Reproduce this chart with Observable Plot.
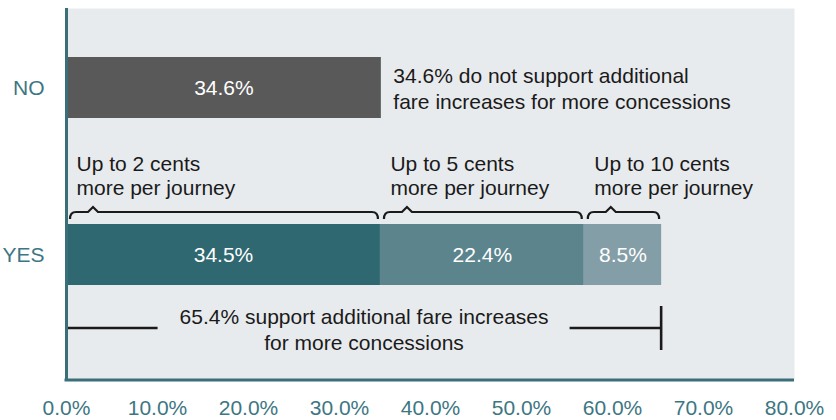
<!DOCTYPE html>
<html><head><meta charset="utf-8">
<script src="https://cdn.jsdelivr.net/npm/d3@7"></script>
<script src="https://cdn.jsdelivr.net/npm/@observablehq/plot@0.6"></script>
<style>body{margin:0;background:#fff}</style>
</head><body><div id="chart"></div>
<script>
const categories = ["NO", "YES"];
const noValues = [34.6];
const yesValues = [34.5, 22.4, 8.5];
const yesOptions = ["Up to 2 cents\nmore per journey", "Up to 5 cents\nmore per journey", "Up to 10 cents\nmore per journey"];
const noNote = "34.6% do not support additional\nfare increases for more concessions";
const yesNote = "65.4% support additional fare increases\nfor more concessions";
const xTicks = [0, 10, 20, 30, 40, 50, 60, 70, 80];
const noColor = "#595959";
const yesColors = ["#2f6870", "#5b848d", "#849ea7"];

const axisColor = "#3a6e78";
const tickColor = "#3d7683";
const inkColor = "#1a1a1a";
const FONT = 21;

let acc = 0;
const yesRows = yesValues.map((v, i) => {
  const r = {cat: "YES", x1: acc, x2: acc + v, value: v, label: yesOptions[i], fill: yesColors[i]};
  acc += v;
  return r;
});
const yesTotal = acc;
const noRows = noValues.map(v => ({cat: "NO", x1: 0, x2: v, value: v, fill: noColor}));
const bars = [...noRows, ...yesRows];
const fmt = v => v.toFixed(1) + "%";

function braces(index, scales) {
  const g = d3.create("svg:g");
  const yTop = scales.y("YES");
  const y0 = yTop - 12;
  for (const r of yesRows) {
    const a = scales.x(r.x1) + 4, b = scales.x(r.x2) - 2;
    const p = a + 23;
    const d = `M${a},${y0 + 7} Q${a},${y0} ${a + 6},${y0} L${p - 5},${y0} L${p},${y0 - 5} L${p + 5},${y0} L${b - 6},${y0} Q${b},${y0} ${b},${y0 + 7}`;
    g.append("path").attr("d", d).attr("fill", "none").attr("stroke", inkColor).attr("stroke-width", 2.2);
  }
  return g.node();
}

function totalBracket(index, scales) {
  const g = d3.create("svg:g");
  const yTop = scales.y("YES");
  const yl = yTop + 104;
  const x0 = scales.x(0), x1 = scales.x(yesTotal), cx = scales.x(yesTotal / 2);
  const gap = 206;
  const st = sel => sel.attr("stroke", inkColor).attr("stroke-width", 2.6);
  st(g.append("line").attr("x1", x0).attr("x2", cx - gap).attr("y1", yl).attr("y2", yl));
  st(g.append("line").attr("x1", cx + gap).attr("x2", x1).attr("y1", yl).attr("y2", yl));
  st(g.append("line").attr("x1", x1).attr("x2", x1).attr("y1", yl - 22).attr("y2", yl + 22));
  return g.node();
}

function bottomLine(index, scales, values, dims) {
  const y = dims.height - dims.marginBottom;
  return d3.create("svg:line")
    .attr("x1", dims.marginLeft - 1.5).attr("x2", dims.width - dims.marginRight)
    .attr("y1", y).attr("y2", y)
    .attr("stroke", axisColor).attr("stroke-width", 3).node();
}

const chart = Plot.plot({
  width: 836,
  height: 420,
  marginLeft: 66,
  marginRight: 42,
  marginTop: 8,
  marginBottom: 40,
  style: {fontFamily: "'Liberation Sans', Arial, sans-serif", fontSize: FONT + "px", background: "#fff"},
  x: {domain: [0, 80], label: null},
  y: {domain: categories, range: [57, 285], paddingInner: 0.635, paddingOuter: 0, label: null},
  color: {type: "identity"},
  marks: [
    Plot.frame({fill: "#e8ebee", stroke: "none"}),
    Plot.barX(bars, {x1: "x1", x2: "x2", y: "cat", fill: "fill"}),
    Plot.text(bars, {x: d => (d.x1 + d.x2) / 2, y: "cat", text: d => fmt(d.value), fill: "#fff", fontSize: FONT}),
    Plot.text(noRows, {x: "x2", y: "cat", text: () => noNote, textAnchor: "start", dx: 12, fill: inkColor, fontSize: FONT, lineHeight: 1.24}),
    Plot.text(yesRows, {x: "x1", y: "cat", text: "label", textAnchor: "start", lineAnchor: "bottom", dx: 10, dy: -60, fill: inkColor, fontSize: FONT, lineHeight: 1.12}),
    braces,
    Plot.text([yesNote], {x: () => yesTotal / 2, y: () => "YES", text: d => d, textAnchor: "middle", dy: 74, fill: inkColor, fontSize: FONT, lineHeight: 1.2}),
    totalBracket,
    Plot.ruleX([0], {stroke: axisColor, strokeWidth: 3}),
    bottomLine,
    Plot.axisY({tickSize: 0, tickPadding: 22, fontSize: FONT, fill: tickColor}),
    Plot.axisX({ticks: xTicks, tickSize: 0, tickPadding: 20, tickFormat: fmt, fontSize: FONT, fill: tickColor})
  ]
});
document.getElementById("chart").appendChild(chart);
</script>
</body></html>
